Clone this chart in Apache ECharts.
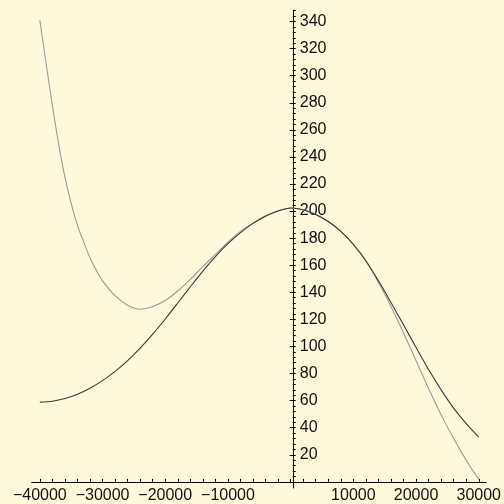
<!DOCTYPE html>
<html><head><meta charset="utf-8">
<script src="https://cdn.jsdelivr.net/npm/echarts@6/dist/echarts.min.js"></script>
<style>html,body{margin:0;padding:0;background:#fff9dc}#c{width:504px;height:504px}</style>
</head><body><div id="c"></div>
<script>
const xValues = [-40000,-38000,-36000,-34000,-32000,-30000,-28000,-26000,-24000,-22000,-20000,-18000,-16000,-14000,-12000,-10000,-8000,-6000,-4000,-2000,0,2000,4000,6000,8000,10000,12000,14000,16000,18000,20000,22000,24000,26000,28000,30000];
const exactValues = [58.9,59.6,61.6,64.8,69.2,74.8,81.6,89.6,98.8,109.1,120.3,132.1,144.1,155.7,166.4,175.9,184.1,190.9,196.2,200.0,202.3,201,197.5,192.3,185,175.5,163.3,148.5,132.5,116,99.3,83,68,54.5,43,33];
const approxXValues = [-40000,-39000,-38000,-37000,-36000,-35000,-34000,-33000,-32000,-31000,-30000,-28000,-26000,-24000,-22000,-20000,-18000,-16000,-14000,-12000,-10000,-8000,-6000,-4000,-2000,0,2000,4000,6000,8000,10000,12000,14000,16000,18000,20000,22000,24000,26000,28000,30000];
const approxValues = [341,309,278,249.5,225,205.5,189.5,177,165.5,156.3,148.5,137.5,130.5,127.5,129.5,134,141,149.5,159,168,177,185,191.3,196.5,200.3,202.3,201,197.5,192.3,185,175.3,163,147.5,129.5,110,89.5,69,49.5,32,16,1.8];
const xTickLabels = [-40000,-30000,-20000,-10000,10000,20000,30000];
const yTickLabels = [20,40,60,80,100,120,140,160,180,200,220,240,260,280,300,320,340];

const xTicks = []; for (let v = -40000; v <= 30000; v += 2000) xTicks.push(v);
const yTicks = []; for (let v = 0; v <= 348; v += 4) yTicks.push(v);

const xMin = -41300, xMax = 31200, yMin = -4.5, yMax = 348.5;
const gridLeft = 31.7, gridTop = 10, gridWidth = 458.3, gridHeight = 483.6;
// place the y axis where x = 0 falls
const yAxisOffset = -(0 - xMin) / (xMax - xMin) * gridWidth;

const fontFamily = '"Liberation Sans", Arial, sans-serif';
const chart = echarts.init(document.getElementById('c'), null, {renderer: 'canvas'});
chart.setOption({
  animation: false,
  backgroundColor: '#fff9dc',
  grid: {left: gridLeft, top: gridTop, width: gridWidth, height: gridHeight, containLabel: false},
  xAxis: {
    type: 'value', min: xMin, max: xMax,
    axisLine: {onZero: true, lineStyle: {color: '#000', width: 1}},
    axisTick: {show: true, inside: true, length: 3, customValues: xTicks, lineStyle: {color: '#000'}},
    axisLabel: {show: true, customValues: xTickLabels, margin: 0, color: '#111', fontFamily, fontSize: 16,
      formatter: v => (v < 0 ? '\u2212' + Math.abs(v) : String(v))},
    splitLine: {show: false}
  },
  yAxis: [{
    type: 'value', min: yMin, max: yMax, position: 'left', offset: yAxisOffset,
    axisLine: {onZero: false, lineStyle: {color: '#000', width: 1}},
    axisTick: {show: true, inside: true, length: 3, customValues: yTicks, lineStyle: {color: '#000'}},
    axisLabel: {show: true, inside: true, customValues: yTickLabels, margin: 7, color: '#111', fontFamily, fontSize: 16},
    splitLine: {show: false}
  }, {
    type: 'value', min: yMin, max: yMax, position: 'left', offset: yAxisOffset,
    axisLine: {show: false, onZero: false},
    axisTick: {show: true, inside: false, length: 3, customValues: yTickLabels, lineStyle: {color: '#000'}},
    axisLabel: {show: false},
    splitLine: {show: false}
  }],
  series: [{
    type: 'line', name: 'approx', yAxisIndex: 0,
    data: approxXValues.map((x, i) => [x, approxValues[i]]),
    showSymbol: false, smooth: 0.3,
    lineStyle: {color: '#9a9a9a', width: 1.1}
  }, {
    type: 'line', name: 'exact', yAxisIndex: 0,
    data: xValues.map((x, i) => [x, exactValues[i]]),
    showSymbol: false, smooth: 0.3,
    lineStyle: {color: '#3a3a3a', width: 1.1}
  }]
});
</script></body></html>
